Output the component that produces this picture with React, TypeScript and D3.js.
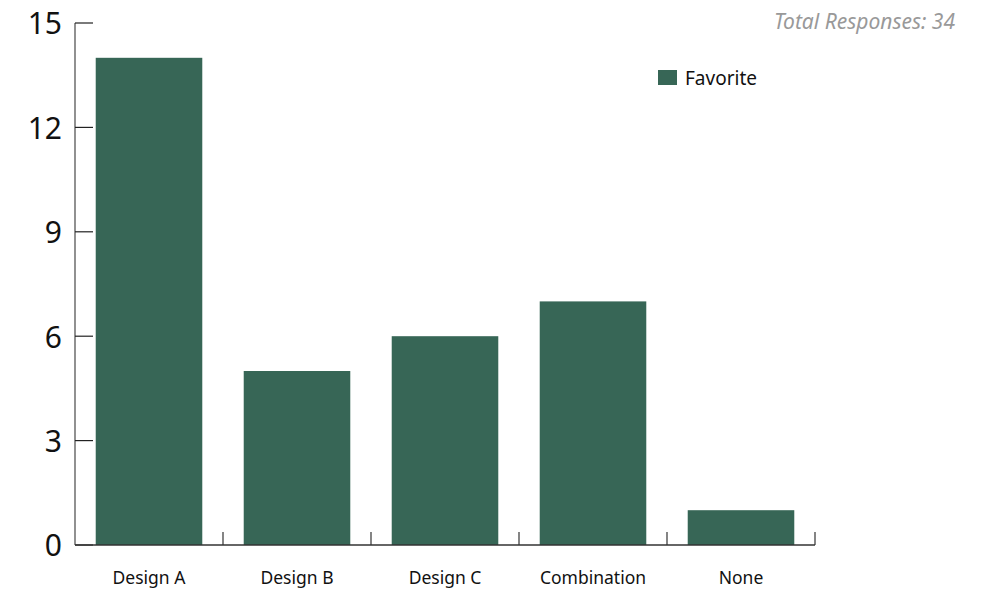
import React from "react";
import * as d3 from "d3";

const categories = ["Design A", "Design B", "Design C", "Combination", "None"];
const favorite = [14, 5, 6, 7, 1];
const yTicks = [0, 3, 6, 9, 12, 15];
const seriesName = "Favorite";
const totalLabel = "Total Responses: 34";

const W = 993;
const H = 590;
const color = "#376656";
const font = "'Noto Sans', sans-serif";

export default function App() {
  const x = d3
    .scaleBand<string>()
    .domain(categories)
    .range([75, 815])
    .paddingInner(0.28)
    .paddingOuter(0.14);
  const y = d3.scaleLinear().domain([0, 15]).range([545, 23]);
  const step = x.step();
  const x0 = 75;
  const bandEdges = categories.map((_, i) => x0 + step * (i + 1));

  return (
    <svg
      width={W}
      height={H}
      style={{ position: "absolute", left: 0, top: 0, background: "#fff" }}
    >
      {categories.map((c, i) => (
        <rect
          key={c}
          x={x(c)}
          y={y(favorite[i])}
          width={x.bandwidth()}
          height={y(0) - y(favorite[i])}
          fill={color}
        />
      ))}
      {/* y axis */}
      <line x1={x0} x2={x0} y1={y(15)} y2={y(0)} stroke="#555" strokeWidth={1.3} />
      {yTicks.map((t) => (
        <g key={t}>
          <line x1={x0} x2={x0 + 18} y1={y(t)} y2={y(t)} stroke="#222" strokeWidth={1.2} />
          <text
            x={62}
            y={y(t)}
            dy="0.38em"
            textAnchor="end"
            fontFamily={font}
            fontSize={30}
            fill="#111"
          >
            {t}
          </text>
        </g>
      ))}
      {/* x axis */}
      <line x1={x0} x2={bandEdges[bandEdges.length - 1]} y1={y(0)} y2={y(0)} stroke="#333" strokeWidth={1.3} />
      {bandEdges.map((e, i) => (
        <line key={i} x1={e} x2={e} y1={y(0)} y2={y(0) - 13} stroke="#333" strokeWidth={1.2} />
      ))}
      {categories.map((c) => (
        <text
          key={c}
          x={(x(c) as number) + x.bandwidth() / 2}
          y={584}
          textAnchor="middle"
          fontFamily={font}
          fontSize={17.5}
          fill="#111"
        >
          {c}
        </text>
      ))}
      {/* legend */}
      <rect x={658} y={70} width={19} height={15} fill={color} />
      <text x={685} y={85} fontFamily={font} fontSize={19} fill="#111">
        {seriesName}
      </text>
      <text
        x={955}
        y={29}
        textAnchor="end"
        fontFamily={font}
        fontStyle="italic"
        fontSize={21}
        fill="#999"
      >
        {totalLabel}
      </text>
    </svg>
  );
}
